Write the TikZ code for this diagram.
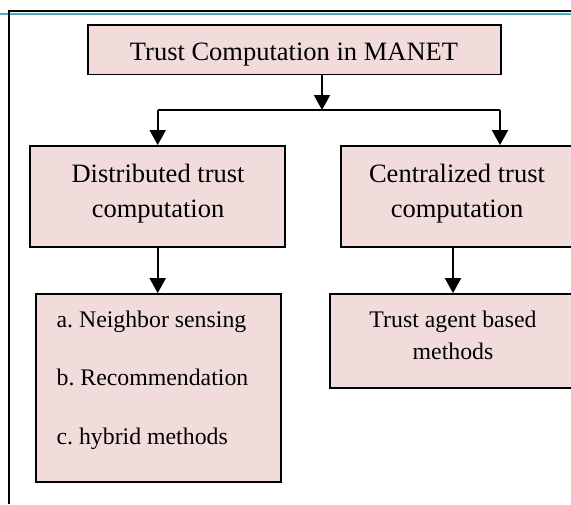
\documentclass[tikz,border=0pt]{standalone}
\usepackage{fontspec}
\setmainfont{Liberation Serif}
\usetikzlibrary{arrows.meta}
\definecolor{boxpink}{HTML}{F2DCDB}
\definecolor{rulecol}{HTML}{4BACC6}
\frenchspacing
\begin{document}
\begin{tikzpicture}[x=1pt,y=-1pt,
  box/.style={draw=black, fill=boxpink, line width=1.8pt, inner sep=0pt},
  bigtext/.style={font=\fontsize{26.5}{35}\selectfont, inner sep=0pt, align=center},
  smalltext/.style={font=\fontsize{23.8}{31.7}\selectfont, inner sep=0pt},
  link/.style={line width=2pt},
  arr/.style={link, -{Triangle[length=15pt,width=16pt]}}]
\clip (0,0) rectangle (571,504);
\fill[white] (0,0) rectangle (571,504);
% page frame
\coordinate (fbl) at (9.3,504);
\coordinate (ftl) at (9.3,11);
\coordinate (ftr) at (571,11);
\coordinate (bl) at (0,14.3);
\coordinate (br) at (571,14.3);
\draw[rulecol, line width=2pt] (bl) -- (br);
\draw[line width=2pt] (fbl) -- (ftl) -- (ftr);
% boxes
\node[box, minimum width=413pt, minimum height=49.5pt] (top) at (294.5,49.7) {};
\node[bigtext, anchor=base] (topt) at (294,60) {Trust Computation in MANET};
\node[box, minimum width=255pt, minimum height=100.7pt] (dist) at (157.5,196.3) {};
\node[bigtext, anchor=north] (distt) at (158,164) {Distributed trust\\computation};
\node[box, minimum width=232pt, minimum height=100.7pt] (cent) at (457,196.3) {};
\node[bigtext, anchor=north] (centt) at (457,164) {Centralized trust\\computation};
\node[box, minimum width=245pt, minimum height=188.3pt] (meth) at (158.2,388.2) {};
\node[smalltext, font=\fontsize{23.8}{58.3}\selectfont, align=left, anchor=north west] (metht) at (56.4,310.7) {a. Neighbor sensing\\b. Recommendation\\c. hybrid methods};
\node[box, minimum width=246pt, minimum height=94pt] (agent) at (453,341) {};
\node[smalltext, align=center, anchor=north] (agentt) at (453,310.7) {Trust agent based\\methods};
% connectors
\coordinate (split) at (322,110);
\coordinate (hl) at (157.7,110);
\coordinate (hr) at (500,110);
\draw[arr] (top.south -| split) -- (split);
\draw[link] (hl) -- (hr);
\draw[arr] (hl) -- (dist.north -| hl);
\draw[arr] (hr) -- (cent.north -| hr);
\draw[arr] (dist.south -| hl) -- (meth.north -| hl);
\draw[arr] (agent.north |- cent.south) -- (agent.north);
\end{tikzpicture}
\end{document}
